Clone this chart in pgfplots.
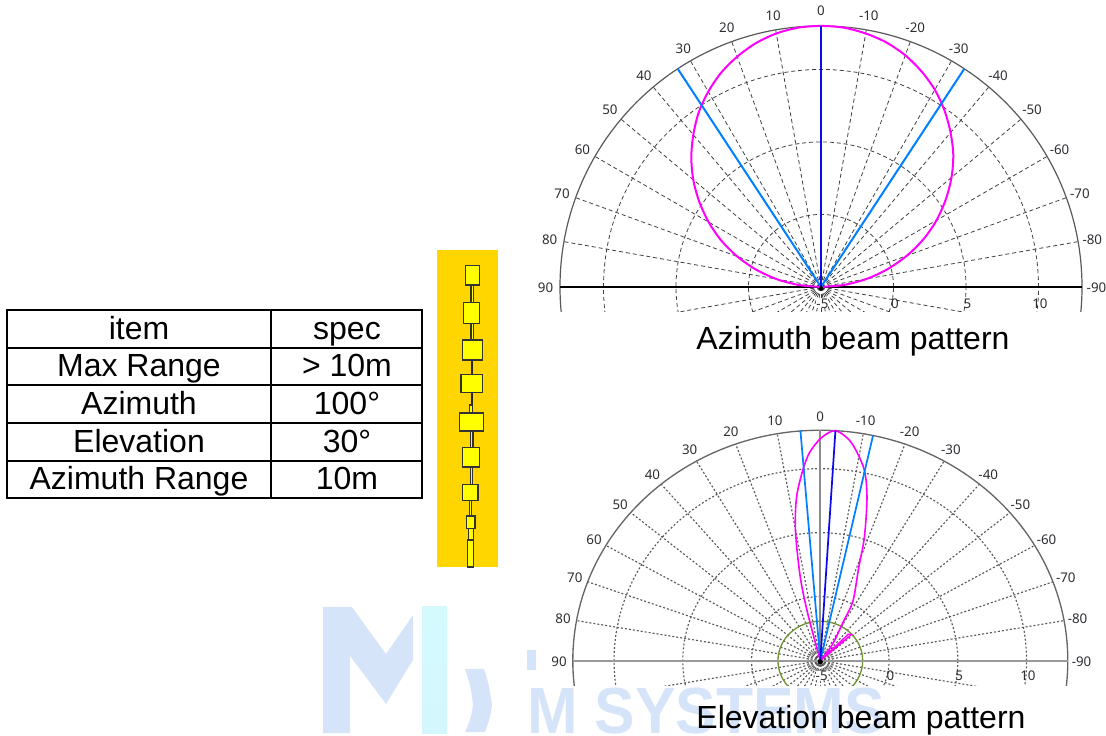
\documentclass[border=0pt]{standalone}
\usepackage{fontspec}
\setmainfont{Liberation Sans}
\newfontfamily\tickfont{Noto Sans}
\usepackage{pgfplots}
\usepackage{pgfplotstable}
\pgfplotsset{compat=1.18}

\definecolor{wm}{RGB}{214,228,250}
\definecolor{wmc}{RGB}{212,250,254}
\definecolor{gold}{RGB}{255,214,0}
\definecolor{patch}{RGB}{255,255,0}
\definecolor{beam}{RGB}{255,0,255}
\definecolor{lblue}{RGB}{0,128,255}
\definecolor{dblue}{RGB}{10,10,235}
\definecolor{olive}{RGB}{112,146,48}
\definecolor{ticktext}{RGB}{45,45,50}

% gain, angle as labelled (0 = up)
\pgfplotstableread{
a g
-90 -5
-85 -3.4
-80 -1.8
-75 -0.25
-70 1.3
-65 2.8
-60 4.2
-55 5.5
-50 6.75
-45 7.9
-40 8.9
-35 9.85
-30 10.7
-25 11.4
-20 12
-15 12.45
-10 12.75
-5 12.95
0 13
5 12.95
10 12.75
15 12.4
20 11.9
25 11.3
30 10.55
35 9.7
40 8.7
45 7.65
50 6.5
55 5.25
60 3.95
65 2.6
70 1.15
75 -0.35
80 -1.9
85 -3.45
90 -5
}\azbeam

\pgfplotstableread{
a g
15 -5
14 -1.3
12.6 1.65
10.1 5.3
7.7 7.89
4.8 10
2.7 11.3
-0.2 12.4
-3.5 13
-7.5 12.2
-12 10.3
-14.9 8.2
-18.4 5.15
-21 2.8
-27 0.23
-28.8 -1.5
-35 -3.5
-40 -5
}\elbeam

\pgfplotstableread{
a g
-40 -5
-44 -5
-44.5 -2.1
-48 -1.95
-47 -5
}\ellobe

\tikzset{px/.style={x=0.75pt,y=-0.75pt,yshift=551.25pt}}

% radial grid: arcs at 0,5,10, spokes every 10 deg, both panels
\newcommand{\polargrid}[2]{%
  \draw[#1] (axis cs:0,0) ellipse [x radius=5, y radius=5];
  \draw[#1] (axis cs:0,0) ellipse [x radius=10, y radius=10];
  \draw[#1] (axis cs:0,0) ellipse [x radius=15, y radius=15];
  \pgfplotsinvokeforeach{0,10,...,350}{
    \draw[#1] (axis cs:0,0) -- (axis cs:{18*cos(##1)},{18*sin(##1)});
  }
  \draw[#2] (axis cs:0,0) ellipse [x radius=18, y radius=18];
}
\tikzset{tick/.style={font=\tickfont\fontsize{10}{11}\selectfont,text=ticktext,inner sep=0pt}}
\newcommand{\polarlabels}{%
  \pgfplotsinvokeforeach{-90,-80,...,90}{
    \node[tick] at (axis cs:{19.0*cos(##1+90)},{19.1*sin(##1+90)-0.08}) {##1};
  }
  \node[tick,fill=white] at (axis cs:0.1,-1.15) {-5};
  \node[tick] at (axis cs:5.1,-1.15) {0};
  \node[tick] at (axis cs:10.1,-1.15) {5};
  \node[tick] at (axis cs:15.1,-1.15) {10};
}

\begin{document}
\begin{tikzpicture}
\path[use as bounding box] (0,0) rectangle (829.5pt,551.25pt);

\begin{scope}[px]
  % watermark
  \fill[wm] (323,607) -- (352,607) -- (386,654) -- (413,615) -- (413,660) -- (386,704)
    -- (350,656) -- (350,733) -- (323,733) -- cycle;
  \shade[top color=wmc,bottom color=wmc!85!wm] (422,607) rectangle (447,733);
  \fill[wm] (465,669) -- (484,669) .. controls (489,685) .. (492,705)
    .. controls (490,718) .. (485,732) -- (465,732)
    .. controls (471,718) .. (473,705) .. controls (471,688) .. cycle;
  \fill[wm] (527,650) rectangle (536,670);
  \node[anchor=base west,inner sep=0pt,text=wm,font=\bfseries\fontsize{49}{50}\selectfont,
    xscale=0.93,transform shape] at (527,733) {M SYSTEMS};

  % spec table
  \draw[line width=1.1pt] (7,310) rectangle (422,498);
  \draw[line width=1.1pt] (271,310) -- (271,498);
  \draw[line width=1.1pt] (7,348) -- (422,348) (7,385) -- (422,385) (7,423) -- (422,423) (7,461) -- (422,461);
  \tikzset{cell/.style={anchor=base,inner sep=0pt,font=\fontsize{24}{26}\selectfont}}
  \node[cell] at (139,340) {item};          \node[cell] at (347,340) {spec};
  \node[cell] at (139,377) {Max Range};     \node[cell] at (347,377) {> 10m};
  \node[cell] at (139,415) {Azimuth};       \node[cell] at (347,415) {100\textdegree};
  \node[cell] at (139,453) {Elevation};     \node[cell] at (347,453) {30\textdegree};
  \node[cell] at (139,490) {Azimuth Range}; \node[cell] at (347,490) {10m};

  % antenna strip
  \fill[gold] (437,250) rectangle (498,567);
  \tikzset{feed/.style={fill=patch,draw=black!80,line width=1pt}}
  \filldraw[feed] (471,285) rectangle (473.4,303);
  \filldraw[feed] (471,323) rectangle (473.4,340);
  \fill[black!85] (470.6,360) rectangle (473.4,374.5);
  \fill[black!85] (470.6,392) rectangle (473.2,405);
  \filldraw[feed] (469.5,405) rectangle (472.5,413);
  \filldraw[feed] (470.5,431) rectangle (473,447.5);
  \filldraw[feed] (470.5,467) rectangle (472.8,484.5);
  \filldraw[feed] (469.5,500) rectangle (471.8,516);
  \filldraw[feed] (468.5,528.5) rectangle (473.2,540);
  \filldraw[feed] (467.7,540) rectangle (473.7,567);
  \filldraw[feed] (465.3,265.7) rectangle (479.3,285);
  \filldraw[feed] (463.7,302.7) rectangle (479.3,323.3);
  \filldraw[feed] (462.3,340) rectangle (482.3,360);
  \filldraw[feed] (461,374.3) rectangle (482.3,392.7);
  \filldraw[feed] (459.7,413) rectangle (483.3,431);
  \filldraw[feed] (462.3,447.3) rectangle (479.3,467);
  \filldraw[feed] (462.7,484.3) rectangle (478,500.7);
  \filldraw[feed] (466.7,516) rectangle (475,528.7);

  % captions
  \node[anchor=base,inner sep=0pt,font=\fontsize{24}{26}\selectfont] at (853,350) {Azimuth beam pattern};
  \node[anchor=base,inner sep=0pt,font=\fontsize{24}{26}\selectfont] at (861,728) {Elevation beam pattern};
\end{scope}

% azimuth panel: 1 unit = 14.5 px, centre (821,287.4)
\begin{axis}[
  at={(557.1*0.75pt,423.4*0.75pt)},anchor=south west,
  hide axis,clip=false,
  x=10.875pt,y=10.875pt,
  xmin=-18.2,xmax=18.2,ymin=-1.7,ymax=18.2,
]
\begin{scope}
  \clip (axis cs:-18.2,-1.7) rectangle (axis cs:18.2,18.2);
  \polargrid{black!75,line width=0.6pt,dash pattern=on 3pt off 2.2pt}{black!65,line width=0.9pt}
\end{scope}
\draw[black,line width=0.9pt] (axis cs:-18,0) -- (axis cs:18,0);
\polarlabels
\addplot[beam,line width=1.5pt,smooth,data cs=polar] table[x expr=\thisrow{a}+90,y expr=\thisrow{g}+5] {\azbeam};
\addplot[lblue,line width=1.5pt,data cs=polar] coordinates {(123.3,0) (123.3,18)};
\addplot[lblue,line width=1.5pt,data cs=polar] coordinates {(56.7,0) (56.7,18)};
\addplot[dblue,line width=1.5pt,data cs=polar] coordinates {(90,0) (90,18)};
\fill[black] (axis cs:0,-0.1) circle [radius=1.8pt];
\end{axis}

% elevation panel: 1 unit = 13.75 x 12.8 px, centre (820.3,660.6)
\begin{axis}[
  at={(570.05*0.75pt,49*0.75pt)},anchor=south west,
  hide axis,clip=false,
  x=10.3125pt,y=9.6pt,
  xmin=-18.2,xmax=18.2,ymin=-1.98,ymax=18.2,
]
\begin{scope}
  \clip (axis cs:-18.2,-1.98) rectangle (axis cs:18.2,18.2);
  \polargrid{black!65,line width=0.85pt,dash pattern=on 1.5pt off 1.5pt}{black!60,line width=1pt}
  \draw[olive,line width=1pt] (axis cs:0,0) ellipse [x radius=3.08, y radius=3.08];
  \draw[black!45,line width=0.8pt] (axis cs:0,0) ellipse [x radius=0.9, y radius=0.8];
\end{scope}
\draw[black!40,line width=1.5pt] (axis cs:-18,0) -- (axis cs:18,0);
\draw[black!45,line width=1.5pt] (axis cs:0,0) -- (axis cs:0,18);
\polarlabels
\addplot[beam,line width=1.2pt,smooth,data cs=polar] table[x expr=\thisrow{a}+90,y expr=\thisrow{g}+5] {\elbeam};
\addplot[beam,line width=1pt,data cs=polar] table[x expr=\thisrow{a}+90,y expr=\thisrow{g}+5] {\ellobe};
\addplot[lblue,line width=1.3pt,data cs=polar] coordinates {(94.6,0) (94.6,18.05)};
\addplot[lblue,line width=1.3pt,data cs=polar] coordinates {(77.7,0) (77.7,18)};
\addplot[dblue,line width=1.3pt,data cs=polar] coordinates {(86.5,0) (86.5,18)};
\fill[black] (axis cs:0,-0.1) circle [radius=2pt];
\end{axis}
\end{tikzpicture}
\end{document}
